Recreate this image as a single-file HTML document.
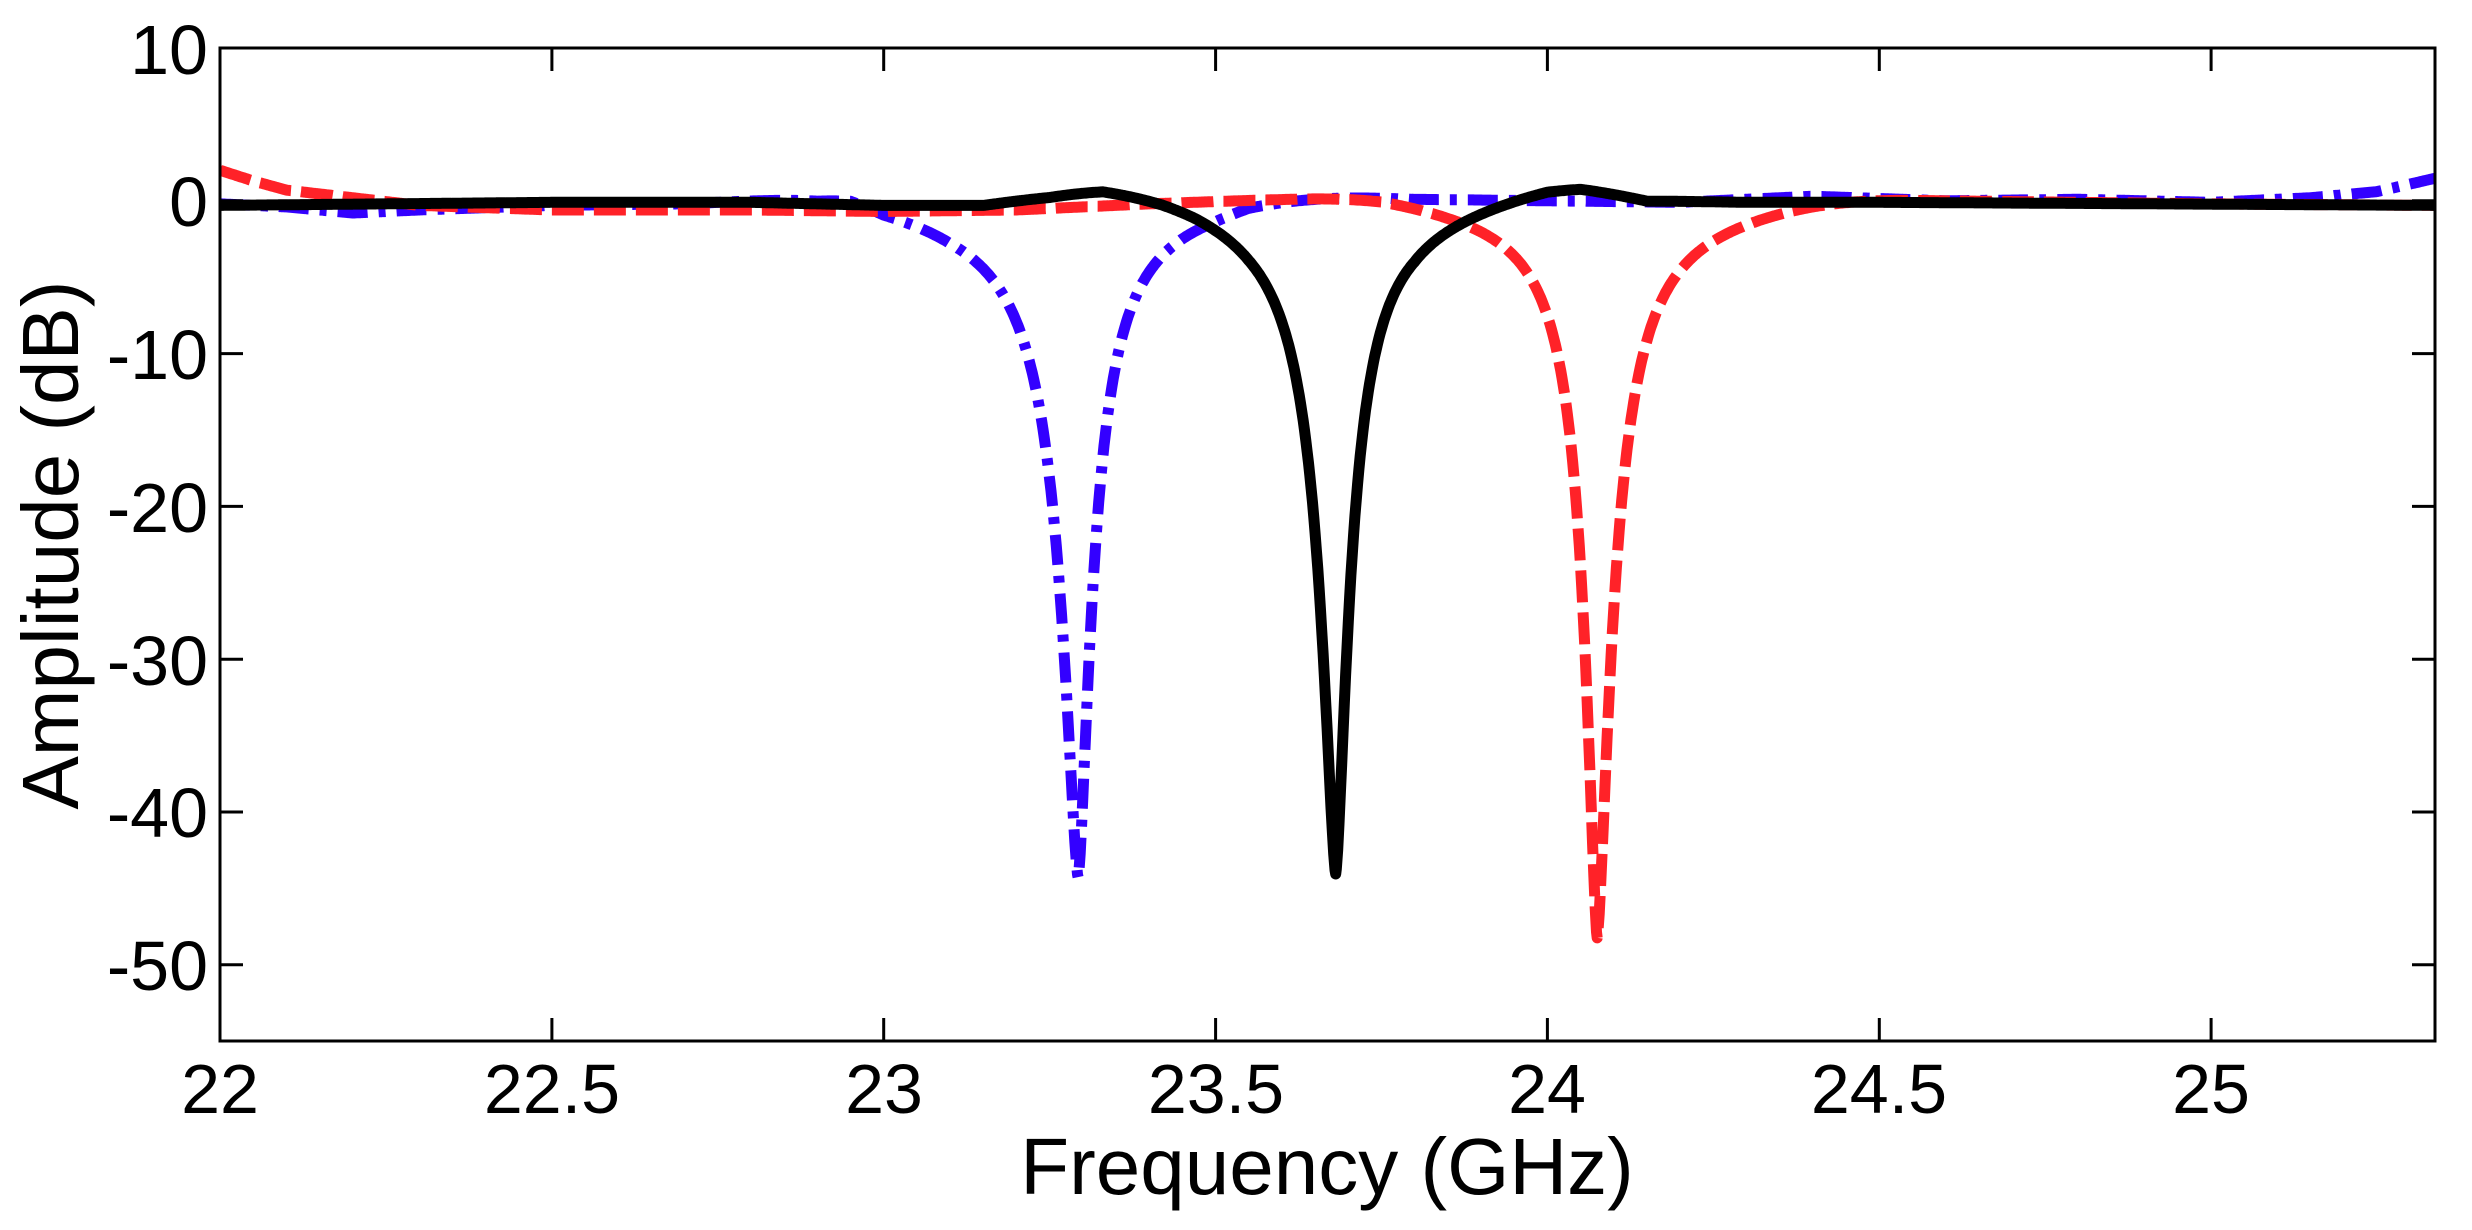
<!DOCTYPE html>
<html><head><meta charset="utf-8"><style>
html,body{margin:0;padding:0;background:#fff}
svg{display:block}
text{font-family:"Liberation Sans",Arial,sans-serif;fill:#000}
</style></head><body>
<svg id="s" width="2472" height="1230" viewBox="0 0 2472 1230" xmlns="http://www.w3.org/2000/svg">
<defs><clipPath id="cp"><rect x="220" y="48" width="2215" height="993"/></clipPath></defs>
<rect width="2472" height="1230" fill="#fff"/>
<g clip-path="url(#cp)">
<path id="pb" fill="none" stroke="#3300ff" stroke-width="11" stroke-dasharray="30 11 7 11" stroke-linejoin="round"/>
<path id="pr" fill="none" stroke="#ff2228" stroke-width="11" stroke-dasharray="32 10" stroke-linejoin="round"/>
<path id="pk" fill="none" stroke="#000" stroke-width="11" stroke-linejoin="round" stroke-linecap="round"/>
</g>
<g id="ax" stroke="#000" stroke-width="3" fill="none"></g>
<g font-size="70" text-anchor="end">
<text x="208" y="74">10</text>
<text x="208" y="226">0</text>
<text x="208" y="379">-10</text>
<text x="208" y="532">-20</text>
<text x="208" y="685">-30</text>
<text x="208" y="837">-40</text>
<text x="208" y="990">-50</text>
</g>
<g font-size="70" text-anchor="middle">
<text x="220" y="1113">22</text>
<text x="552" y="1113">22.5</text>
<text x="884" y="1113">23</text>
<text x="1216" y="1113">23.5</text>
<text x="1547" y="1113">24</text>
<text x="1879" y="1113">24.5</text>
<text x="2211" y="1113">25</text>
</g>
<text x="1327" y="1194" font-size="80" text-anchor="middle">Frequency (GHz)</text>
<text transform="translate(78,545) rotate(-90)" font-size="80" text-anchor="middle">Amplitude (dB)</text>
</svg>
<script>
var X=function(f){return 220+(f-22)*663.7},Y=function(d){return 200.8-d*15.28};
function interp(pts,f){if(f<=pts[0][0])return pts[0][1];for(var i=1;i<pts.length;i++){if(f<=pts[i][0]){var a=pts[i-1],b=pts[i];return a[1]+(b[1]-a[1])*(f-a[0])/(b[0]-a[0]);}}return pts[pts.length-1][1];}
function dip(f,f0,D,wl,wr){var d=f-f0,w=d<0?wl:wr,r=Math.abs(d)/w;return -D/(1+Math.pow(r,1.5))*Math.exp(-Math.pow(Math.abs(d)/0.35,4));}
function build(f0,D,wl,wr,base){var fs=[];for(var f=22;f<=25.34;f+=0.002)fs.push(f);fs.push(f0);fs.sort(function(a,b){return a-b});
var s='';fs.forEach(function(f,i){var v=interp(base,f)+dip(f,f0,D,wl,wr);s+=(i?'L':'M')+X(f).toFixed(1)+' '+Y(v).toFixed(1);});return s;}
var bb=[[22,-0.2],[22.1,-0.4],[22.2,-0.8],[22.3,-0.6],[22.5,-0.3],[22.7,-0.2],[22.9,0.2],[22.95,0.5],[23.0,0.1],[23.1,0],[23.5,0.4],[23.55,0.6],[23.65,0.4],[23.8,0.1],[24.0,0],[24.2,-0.1],[24.4,0.3],[24.6,0],[24.8,0.1],[25.0,-0.1],[25.15,0.2],[25.25,0.6],[25.34,1.5]];
var rb=[[22,2],[22.05,1.3],[22.1,0.7],[22.2,0.2],[22.3,-0.3],[22.5,-0.6],[22.8,-0.6],[23.0,-0.7],[23.2,-0.6],[23.4,-0.2],[23.6,0.1],[23.75,0.4],[23.85,0.3],[24.4,0.2],[24.6,0],[25,-0.2],[25.34,-0.3]];
var kb=[[22,-0.3],[22.5,-0.1],[22.8,-0.1],[23.0,-0.3],[23.15,-0.3],[23.25,0.3],[23.33,1.0],[23.42,1.0],[23.47,0.9],[23.55,0.6],[23.8,0.3],[23.95,0.9],[24.0,1.1],[24.05,1.0],[24.1,0.5],[24.15,0],[24.3,-0.1],[24.5,-0.1],[25.34,-0.3]];
document.getElementById('pb').setAttribute('d',build(23.293,44.5,0.034,0.027,bb));
document.getElementById('pr').setAttribute('d',build(24.075,48.5,0.025,0.029,rb));
document.getElementById('pk').setAttribute('d',build(23.681,44.5,0.031,0.027,kb));
var ax='M220 48H2435V1041H220Z';
for(var d=10;d>=-50;d-=10){var y=Y(d).toFixed(1);ax+='M220 '+y+'h23M2435 '+y+'h-23';}
for(var f=22.5;f<=25.01;f+=0.5){var x=X(f).toFixed(1);ax+='M'+x+' 1041v-23M'+x+' 48v23';}
var p=document.createElementNS('http://www.w3.org/2000/svg','path');p.setAttribute('d',ax);document.getElementById('ax').appendChild(p);
</script>
</body></html>
